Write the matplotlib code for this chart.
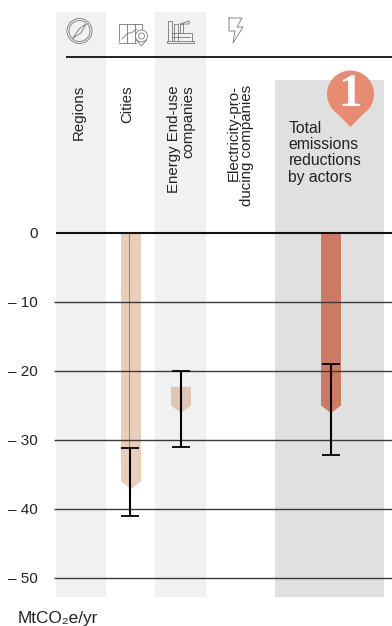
import matplotlib
matplotlib.use('Agg')
import matplotlib.pyplot as plt
from matplotlib.patches import Polygon, Rectangle, Ellipse

plt.rcParams['font.family'] = ['Liberation Sans', 'DejaVu Sans']

TICKS = [0, -10, -20, -30, -40, -50]
TICK_LABELS = ['0', '\u2013 10', '\u2013 20', '\u2013 30', '\u2013 40', '\u2013 50']

BAR_X = [131, 181, 331]
BAR_TOP = [0, -22.3, 0]
BAR_SHOULDER = [-36, -25, -25]
BAR_TIP = [-37.1, -26.1, -26.1]
BAR_COLORS = ['#e9cfba', '#e0c6b0', '#cd7a64']

ERR_X = [130, 181, 331]
ERR_HIGH = [-31.1, -20, -19]
ERR_LOW = [-41, -31, -32.2]

PX = 6.9  # pixels per MtCO2e
W, H = 392, 626
Y0 = 233

fig = plt.figure(figsize=(W / 100, H / 100), dpi=100)
ax = fig.add_axes([0, 0, 1, 1])
ax.set_xlim(0, W)
ax.set_ylim(-(H - Y0) / PX, Y0 / PX)
ax.axis('off')


def py(p):
    # pixel row to data value, for the furniture above the plot
    return (Y0 - p) / PX


# background bands
for x0, x1, top, col in [(56, 106, 12, '#f0f1f3'), (155, 206, 12, '#f0f1f3'), (275, 384, 80, '#e0e0e0')]:
    ax.add_patch(Rectangle((x0, py(597)), x1 - x0, py(top) - py(597), fc=col, ec='none', zorder=1))

# bars with arrow shaped ends
for x, top, sh, tip, col in zip(BAR_X, BAR_TOP, BAR_SHOULDER, BAR_TIP, BAR_COLORS):
    pts = [(x - 10, top), (x + 10, top), (x + 10, sh), (x, tip), (x - 10, sh)]
    ax.add_patch(Polygon(pts, closed=True, fc=col, ec='none', zorder=2))

# thin line in cities bar
ax.plot([129.5, 129.5], [0, -31], color='#a08878', lw=0.8, zorder=3)

# grid
for t in TICKS[1:]:
    ax.plot([54, W], [t, t], color='#3a3a3a', lw=1.0, zorder=4, solid_capstyle='butt')
ax.plot([56, W], [0, 0], color='#111111', lw=1.5, zorder=4, solid_capstyle='butt')
ax.plot([66, W], [py(57), py(57)], color='#111111', lw=1.3, zorder=4, solid_capstyle='butt')

# error bars
for x, hi, lo in zip(ERR_X, ERR_HIGH, ERR_LOW):
    ax.plot([x, x], [hi, lo], color='black', lw=1.5, zorder=5, solid_capstyle='butt')
    for v in (hi, lo):
        ax.plot([x - 9, x + 9], [v, v], color='black', lw=1.3, zorder=5, solid_capstyle='butt')

# y tick labels
for t, lab in zip(TICKS, TICK_LABELS):
    ax.text(38, t + 0.05, lab, ha='right', va='center_baseline', fontsize=11, color='#222222', zorder=6)
ax.text(18, py(618), 'MtCO\u2082e/yr', ha='left', va='center', fontsize=12.4, color='#222222')

# column headers
hdr = dict(rotation=90, fontsize=10.8, color='#222222', zorder=6, linespacing=1.0)
ax.text(79, py(85), 'Regions', ha='center', va='top', **hdr)
ax.text(127, py(85), 'Cities', ha='center', va='top', **hdr)
ax.text(181, py(85), 'Energy End-use\ncompanies', ha='center', va='top', multialignment='right', **hdr)
ax.text(240.5, py(85), 'Electricity-pro-\nducing companies', ha='center', va='top', multialignment='right', **hdr)
ax.text(288.5, py(121), 'Total\nemissions\nreductions\nby actors', ha='left', va='top',
        fontsize=11.3, color='#222222', linespacing=1.1, zorder=6)

# badge
BADGE = '#e78b72'
ax.add_patch(Ellipse((350.5, py(94)), 47, 47 / PX, fc=BADGE, ec='none', zorder=5))
ax.add_patch(Polygon([(330, py(106)), (371, py(106)), (350.5, py(127))], closed=True, fc=BADGE, ec='none', zorder=5))
ax.text(350.5, py(95), '1', ha='center', va='center', fontsize=34, fontweight='bold',
        family='Liberation Serif', color='white', zorder=7)

# icons, thin grey outlines
ICON = '#777777'
lw = 0.6


def pl(xs, ys):
    ax.plot(xs, [py(v) for v in ys], color=ICON, lw=lw, zorder=6)


# compass
ax.add_patch(Ellipse((79.5, py(31)), 25, 25 / PX, fc='none', ec=ICON, lw=lw, zorder=6))
ax.add_patch(Ellipse((79.5, py(31)), 21, 21 / PX, fc='none', ec=ICON, lw=lw, zorder=6))
pl([73, 79, 86, 81, 73], [38, 29, 24, 33, 38])
# city map
pl([119, 119, 142, 142], [41, 24, 24, 30])
pl([119, 136], [43, 43])
pl([127, 127], [24, 43])
pl([135, 135], [24, 43])
pl([122, 128, 131, 137], [39, 33, 33, 29])
ax.add_patch(Ellipse((141.5, py(36)), 12, 12 / PX, fc='white', ec=ICON, lw=lw, zorder=6))
ax.add_patch(Ellipse((141.5, py(36)), 6, 6 / PX, fc='none', ec=ICON, lw=lw, zorder=6))
pl([136.5, 141.5, 146.5], [40, 46, 40])
# factory
pl([167, 194, 194, 167, 167], [41, 41, 43.5, 43.5, 41])
pl([168, 168, 172, 172], [41, 21, 21, 41])
pl([174, 174, 178, 178], [41, 24, 24, 41])
pl([172, 192, 192], [33, 33, 41])
pl([180, 180, 183, 183], [33, 24, 24, 33])
pl([180, 189, 189, 183], [24, 21, 24, 24])
pl([172, 190], [37, 37])
# bolt
pl([229, 242, 237, 243, 233, 235, 229, 229], [18, 18, 27, 27, 43, 31, 31, 18])

fig.savefig('out.png', dpi=100)
